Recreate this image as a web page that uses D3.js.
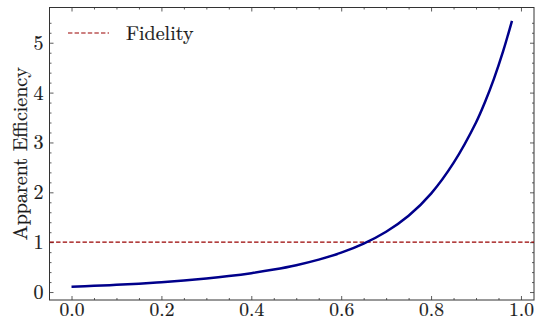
<!DOCTYPE html>
<html>
<head>
<meta charset="utf-8">
<script src="https://cdn.jsdelivr.net/npm/d3@7"></script>
<style>
  html, body { margin: 0; padding: 0; background: #fff; }
  svg { display: block; }
</style>
</head>
<body>
<svg id="chart" width="535" height="321"></svg>
<script>
// Data
const fidelityX = [0.00, 0.05, 0.10, 0.15, 0.20, 0.25, 0.30, 0.35, 0.40, 0.45, 0.50, 0.55, 0.60, 0.65, 0.70, 0.75, 0.80, 0.85, 0.90, 0.92, 0.94, 0.96, 0.98];
const efficiencyY = [0.107, 0.124, 0.145, 0.168, 0.197, 0.230, 0.271, 0.320, 0.379, 0.451, 0.539, 0.650, 0.790, 0.972, 1.210, 1.530, 1.975, 2.590, 3.400, 3.810, 4.280, 4.820, 5.440];
const fidelityLevel = [1];
const xTicks = [0.0, 0.2, 0.4, 0.6, 0.8, 1.0];
const yTicks = [0, 1, 2, 3, 4, 5];
const legendLabels = ["Fidelity"];
const yLabel = "Apparent Efficiency";

const FONT = '"Latin Modern Roman", "CMU Serif", "Liberation Serif", serif';
const svg = d3.select("#chart");
const m = { left: 49.5, right: 534, top: 7.5, bottom: 300 };

// matplotlib-style 5% margins
const xMin = d3.min(fidelityX), xMax = d3.max(fidelityX);
const yMin = d3.min(efficiencyY), yMax = d3.max(efficiencyY);
const xPad = (xMax - xMin) * 0.05, yPad = (yMax - yMin) * 0.05;

const x = d3.scaleLinear().domain([xMin - xPad, xMax + xPad]).range([m.left, m.right]);
const y = d3.scaleLinear().domain([yMin - yPad, yMax + yPad]).range([m.bottom, m.top]);

const axisColor = "#333";
const textColor = "#1a1a1a";
const fidColor = "#990000";

const xMinor = d3.range(0, 1.0001, 0.05).filter(v => Math.abs(v * 5 - Math.round(v * 5)) > 1e-6);
const yMinor = d3.range(0, 5.6, 0.2).filter(v => Math.abs(v - Math.round(v)) > 1e-6);

function styleAxis(g) {
  g.attr("font-family", null).attr("font-size", null);
  g.select(".domain").remove();
  g.selectAll(".tick line").attr("stroke", axisColor).attr("stroke-width", 0.8);
}
function styleText(sel, size) {
  sel.style("font-family", FONT).style("font-size", size + "px")
    .attr("fill", textColor).attr("stroke", textColor).attr("stroke-width", 0.2);
}

// Bottom axis (inward ticks)
const bottom = svg.append("g").attr("transform", `translate(0,${m.bottom})`)
  .call(d3.axisBottom(x).tickValues(xTicks).tickSize(-4).tickFormat(d3.format(".1f")));
styleAxis(bottom);
bottom.selectAll("text").call(styleText, 19.5).attr("y", 16).attr("dy", null);
svg.append("g").attr("transform", `translate(0,${m.bottom})`)
  .call(d3.axisBottom(x).tickValues(xMinor).tickSize(-2).tickFormat(""))
  .call(styleAxis);

// Top axis
svg.append("g").attr("transform", `translate(0,${m.top})`)
  .call(d3.axisTop(x).tickValues(xTicks).tickSize(-4).tickFormat(""))
  .call(styleAxis);
svg.append("g").attr("transform", `translate(0,${m.top})`)
  .call(d3.axisTop(x).tickValues(xMinor).tickSize(-2).tickFormat(""))
  .call(styleAxis);

// Left axis
const left = svg.append("g").attr("transform", `translate(${m.left},0)`)
  .call(d3.axisLeft(y).tickValues(yTicks).tickSize(-4).tickFormat(d3.format("d")));
styleAxis(left);
left.selectAll("text").call(styleText, 20).attr("x", -6);
svg.append("g").attr("transform", `translate(${m.left},0)`)
  .call(d3.axisLeft(y).tickValues(yMinor).tickSize(-2).tickFormat(""))
  .call(styleAxis);

// Right axis
svg.append("g").attr("transform", `translate(${m.right},0)`)
  .call(d3.axisRight(y).tickValues(yTicks).tickSize(-4).tickFormat(""))
  .call(styleAxis);
svg.append("g").attr("transform", `translate(${m.right},0)`)
  .call(d3.axisRight(y).tickValues(yMinor).tickSize(-2).tickFormat(""))
  .call(styleAxis);

// Frame
svg.append("rect")
  .attr("x", m.left).attr("y", m.top)
  .attr("width", m.right - m.left).attr("height", m.bottom - m.top)
  .attr("fill", "none").attr("stroke", axisColor).attr("stroke-width", 1);

// Clip
svg.append("clipPath").attr("id", "clip").append("rect")
  .attr("x", m.left).attr("y", m.top)
  .attr("width", m.right - m.left).attr("height", m.bottom - m.top);

// Fidelity horizontal line
svg.append("g").attr("clip-path", "url(#clip)")
  .selectAll("line.fid").data(fidelityLevel).join("line")
  .attr("x1", m.left).attr("x2", m.right)
  .attr("y1", d => y(d)).attr("y2", d => y(d))
  .attr("stroke", fidColor).attr("stroke-width", 1.2)
  .attr("stroke-dasharray", "4.4,2.2");

// Curve
const pts = fidelityX.map((v, i) => [v, efficiencyY[i]]);
svg.append("path").datum(pts)
  .attr("clip-path", "url(#clip)")
  .attr("fill", "none")
  .attr("stroke", "#00008b")
  .attr("stroke-width", 2.5)
  .attr("d", d3.line().x(d => x(d[0])).y(d => y(d[1])).curve(d3.curveCatmullRom.alpha(0.5)));

// Y label
svg.append("text")
  .attr("transform", `translate(27,${(m.top + m.bottom) / 2}) rotate(-90)`)
  .attr("text-anchor", "middle")
  .call(styleText, 20)
  .text(yLabel);

// Legend
const leg = svg.append("g");
leg.append("line")
  .attr("x1", 68).attr("x2", 109).attr("y1", 33).attr("y2", 33)
  .attr("stroke", fidColor).attr("stroke-width", 1.2)
  .attr("stroke-dasharray", "4.4,2.2");
leg.append("text")
  .attr("x", 126).attr("y", 40)
  .call(styleText, 20)
  .text(legendLabels[0]);
</script>
</body>
</html>
